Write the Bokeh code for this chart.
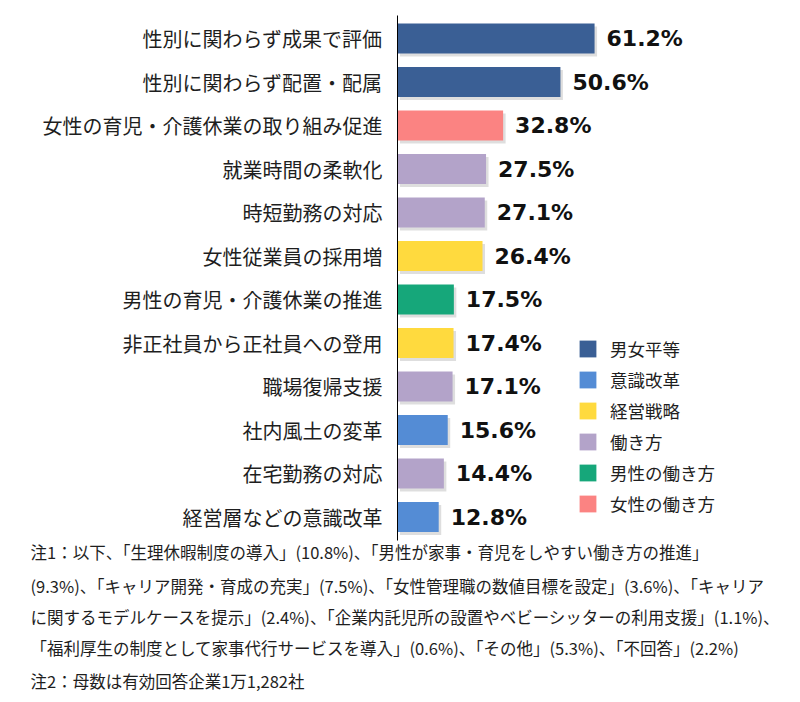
from bokeh.plotting import figure
from bokeh.models import Range1d, ColumnDataSource, Legend, LegendItem
from bokeh.core.properties import value
from bokeh.embed import file_html
from bokeh.resources import INLINE

labels = ["性別に関わらず成果で評価", "性別に関わらず配置・配属", "女性の育児・介護休業の取り組み促進",
          "就業時間の柔軟化", "時短勤務の対応", "女性従業員の採用増", "男性の育児・介護休業の推進",
          "非正社員から正社員への登用", "職場復帰支援", "社内風土の変革", "在宅勤務の対応", "経営層などの意識改革"]
values = [61.2, 50.6, 32.8, 27.5, 27.1, 26.4, 17.5, 17.4, 17.1, 15.6, 14.4, 12.8]
groups = ["男女平等", "男女平等", "女性の働き方", "働き方", "働き方", "経営戦略", "男性の働き方",
          "経営戦略", "働き方", "意識改革", "働き方", "意識改革"]
legend_groups = ["男女平等", "意識改革", "経営戦略", "働き方", "男性の働き方", "女性の働き方"]
group_colors = ["#3A5F95", "#548CD5", "#FFDA3E", "#B3A3C9", "#16A77A", "#FB8382"]
notes = [
    "注1：以下、「生理休暇制度の導入」(10.8%)、「男性が家事・育児をしやすい働き方の推進」",
    "(9.3%)、「キャリア開発・育成の充実」(7.5%)、「女性管理職の数値目標を設定」(3.6%)、「キャリア",
    "に関するモデルケースを提示」(2.4%)、「企業内託児所の設置やベビーシッターの利用支援」(1.1%)、",
    "「福利厚生の制度として家事代行サービスを導入」(0.6%)、「その他」(5.3%)、「不回答」(2.2%)",
    "注2：母数は有効回答企業1万1,282社",
]

# layout helpers: picture pixel -> data coordinates
X0, XS = 397.0, 3.22   # axis position and px per percent
Y0, YS = 38.0, 43.5    # first row center and row pitch


def X(px):
    return (px - X0) / XS


def Y(py):
    return -(py - Y0) / YS


W, H = 800, 700
p = figure(width=W, height=H, output_backend="svg", toolbar_location=None,
           x_range=Range1d(X(0), X(W)), y_range=Range1d(Y(H), Y(0)),
           x_axis_location=None, y_axis_location=None, min_border=0)
p.outline_line_color = None
p.xgrid.visible = False
p.ygrid.visible = False
p.background_fill_color = "white"
p.border_fill_color = "white"

ys = [-i for i in range(len(values))]
bar_h = 30 / YS

# soft shadow
sh = ColumnDataSource(dict(y=[y - 3 / YS for y in ys], right=[v + 2.5 / XS for v in values]))
p.hbar(y="y", left=2.5 / XS, right="right", height=bar_h, source=sh,
       fill_color="#000000", fill_alpha=0.13, line_color=None)

items = []
for g, c in zip(legend_groups, group_colors):
    idx = [i for i, gg in enumerate(groups) if gg == g]
    src = ColumnDataSource(dict(y=[ys[i] for i in idx], right=[values[i] for i in idx]))
    r = p.hbar(y="y", left=0, right="right", height=bar_h, source=src,
               fill_color=c, line_color=None)
    items.append(LegendItem(label=g, renderers=[r]))

# vertical axis line
p.segment(x0=[0], y0=[Y(15)], x1=[0], y1=[Y(540)], line_color="#000000", line_width=1)

# category labels
p.text(x=[X(382)] * len(labels), y=ys, text=labels, text_align="right", text_baseline="middle",
       text_font=value("Noto Sans CJK JP"), text_font_size="20px", text_color="#1e1e1e")

# value labels
p.text(x=[v + 12 / XS for v in values], y=ys, text=[f"{v:.1f}%" for v in values],
       text_align="left", text_baseline="middle", text_font=value("DejaVu Sans"),
       text_font_style="bold", text_font_size="22px", text_color="#111111")

# notes
note_py = [551, 585, 616, 647, 680]
p.text(x=[X(30)] * len(notes), y=[Y(v) for v in note_py], text=notes, text_align="left",
       text_baseline="middle", text_font=value("Noto Sans CJK JP"), text_font_size="16.5px",
       text_color="#1e1e1e")

legend = Legend(items=items, location=(577, H - 516), orientation="vertical",
                glyph_width=21, glyph_height=21, label_height=21, spacing=6,
                label_standoff=12, label_text_font="Noto Sans CJK JP",
                label_text_font_size="17.5px", label_text_color="#1e1e1e",
                border_line_color=None, background_fill_alpha=0, padding=0, margin=0)
p.add_layout(legend)

open("out.html", "w").write(file_html(p, INLINE))
